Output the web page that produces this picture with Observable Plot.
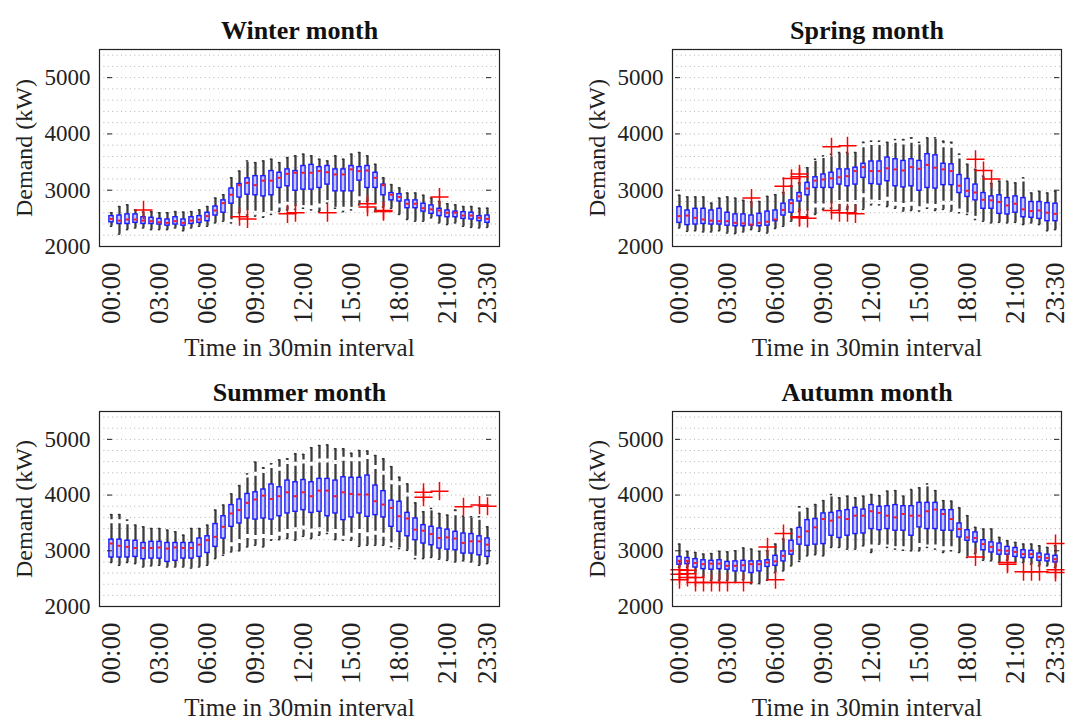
<!DOCTYPE html>
<html><head><meta charset="utf-8">
<script src="https://cdn.jsdelivr.net/npm/d3@7"></script>
<script src="https://cdn.jsdelivr.net/npm/@observablehq/plot@0.6"></script>
<style>
body{margin:0;background:#fff;}
#chart{position:relative;width:1071px;height:720px;overflow:hidden;background:#fff;font-family:"Liberation Serif",serif;}
#chart svg{position:absolute;overflow:visible;}
#chart svg text{font-family:"Liberation Serif",serif;}
</style></head><body><div id="chart"></div>
<script>
const times = ["00:00","00:30","01:00","01:30","02:00","02:30","03:00","03:30","04:00","04:30","05:00","05:30",
"06:00","06:30","07:00","07:30","08:00","08:30","09:00","09:30","10:00","10:30","11:00","11:30",
"12:00","12:30","13:00","13:30","14:00","14:30","15:00","15:30","16:00","16:30","17:00","17:30",
"18:00","18:30","19:00","19:30","20:00","20:30","21:00","21:30","22:00","22:30","23:00","23:30"];
const xTickLabels = ["00:00","03:00","06:00","09:00","12:00","15:00","18:00","21:00","23:30"];
const yTicks = [2000,3000,4000,5000];
const yGrid = [2200,2400,2600,2800,3000,3200,3400,3600,3800,4000,4200,4400,4600,4800,5000,5200,5400];
const titles = ["Winter month","Spring month","Summer month","Autumn month"];
const yLabel = "Demand (kW)";
const xLabel = "Time in 30min interval";

// Winter
const winterQ1 = [2430,2400,2400,2420,2400,2400,2390,2370,2390,2370,2400,2420,2450,2550,2600,2760,2870,2920,2910,2890,2910,3040,3070,2990,3010,3010,3040,3100,2980,2980,2980,3170,3040,3040,2910,2820,2800,2680,2680,2620,2580,2540,2520,2520,2490,2480,2450,2420];
const winterMed = [2490,2460,2480,2480,2460,2450,2430,2420,2450,2420,2460,2480,2540,2640,2770,2920,3090,3130,3090,3170,3170,3220,3290,3310,3310,3310,3340,3320,3280,3280,3370,3340,3350,3220,3090,2920,2880,2760,2760,2680,2660,2640,2600,2600,2550,2550,2510,2490];
const winterQ3 = [2540,2550,2570,2570,2520,2510,2490,2480,2520,2480,2520,2540,2600,2710,2820,3030,3110,3210,3250,3250,3340,3310,3370,3340,3430,3450,3410,3430,3370,3370,3430,3410,3430,3310,3100,2950,2930,2820,2820,2760,2730,2670,2640,2620,2610,2600,2540,2550];
const winterLo = [2360,2220,2300,2330,2330,2300,2300,2300,2330,2280,2330,2360,2360,2420,2450,2420,2600,2560,2540,2520,2570,2620,2650,2660,2680,2650,2620,2770,2680,2620,2650,2740,2800,2620,2700,2680,2570,2480,2450,2450,2510,2420,2390,2420,2360,2340,2330,2340];
const winterHi = [2600,2710,2740,2650,2610,2620,2600,2600,2620,2610,2620,2650,2710,2860,2920,3220,3340,3520,3490,3520,3550,3490,3580,3610,3640,3610,3550,3520,3610,3550,3640,3670,3610,3460,3220,3100,3040,2950,2950,2910,2860,2800,2760,2740,2710,2710,2680,2680];
const winterOutTime = ["02:00","08:00","08:30","11:00","11:30","13:30","16:00","16:00","17:00","17:00","20:30"];
const winterOutValue = [2650,2530,2490,2580,2600,2600,2760,2700,2640,2620,2880];

// Spring
const springQ1 = [2420,2380,2390,2400,2390,2390,2370,2360,2360,2370,2360,2370,2450,2550,2600,2800,2910,3040,3040,3040,3100,3070,3100,3220,3110,3100,3160,3070,3050,3070,2990,3040,3030,3090,3090,2950,2880,2820,2670,2670,2580,2570,2600,2520,2510,2490,2450,2450];
const springMed = [2540,2550,2510,2480,2460,2450,2450,2420,2410,2390,2420,2440,2480,2650,2770,2890,3030,3170,3190,3210,3230,3250,3340,3410,3340,3340,3390,3370,3350,3410,3380,3450,3400,3370,3340,3080,2990,2960,2830,2820,2790,2730,2760,2660,2630,2640,2600,2580];
const springQ3 = [2700,2640,2670,2670,2640,2670,2600,2570,2570,2550,2580,2620,2640,2760,2820,2950,3130,3230,3280,3310,3370,3370,3400,3470,3510,3510,3580,3550,3520,3550,3520,3640,3620,3470,3460,3270,3200,3100,2950,2890,2910,2860,2890,2860,2790,2790,2770,2760];
const springLo = [2330,2270,2280,2260,2260,2280,2240,2230,2260,2300,2270,2240,2320,2360,2450,2620,2560,2570,2660,2680,2650,2660,2620,2660,2740,2740,2710,2680,2630,2640,2630,2680,2640,2660,2630,2600,2570,2480,2450,2420,2430,2420,2430,2390,2420,2390,2280,2300];
const springHi = [2910,2880,2880,2880,2770,2860,2880,2860,2820,2790,2800,2890,2920,2960,3080,3130,3400,3550,3610,3640,3670,3670,3670,3850,3870,3870,3850,3900,3900,3930,3850,3930,3930,3870,3850,3640,3460,3370,3250,3120,3160,3160,3130,3220,2950,2980,2950,2980];
const springOutTime = ["04:30","06:30","07:00","07:30","07:30","07:30","07:30","08:00","09:30","09:30","10:00","10:30","10:30","11:00","18:30","19:00","19:30"];
const springOutValue = [2860,3070,3210,3290,3240,2510,2530,2500,3770,2640,2600,3790,2600,2580,3550,3350,3200];

// Summer
const summerQ1 = [2880,2880,2880,2890,2850,2860,2860,2800,2820,2860,2860,2890,2960,3070,3220,3430,3490,3580,3560,3580,3560,3620,3670,3700,3730,3680,3700,3620,3670,3550,3600,3670,3610,3640,3600,3430,3340,3260,3190,3130,3100,3040,3020,3010,2950,2950,2920,2890];
const summerMed = [3130,3090,3070,3050,3050,3050,3060,3040,3060,3050,3050,3110,3190,3250,3430,3670,3730,3860,3920,3990,3930,3980,4050,3980,4050,3980,4080,4080,3980,4050,4020,4010,4010,3890,3830,3770,3620,3580,3380,3360,3300,3230,3240,3220,3140,3170,3170,3110];
const summerQ3 = [3200,3200,3180,3180,3140,3160,3160,3140,3140,3140,3140,3220,3260,3480,3620,3820,3920,4020,4050,4100,4190,4140,4260,4230,4270,4230,4290,4290,4260,4320,4310,4310,4350,4170,4070,3900,3880,3680,3580,3460,3430,3400,3380,3340,3310,3300,3260,3220];
const summerLo = [2790,2740,2790,2770,2710,2730,2740,2710,2710,2710,2690,2710,2740,2860,2920,2980,3000,3070,3100,3070,3190,3200,3220,3190,3260,3220,3280,3310,3200,3190,3190,3080,3100,3100,3100,3070,3040,3010,2860,2860,2880,2850,2830,2800,2820,2800,2740,2770];
const summerHi = [3650,3650,3550,3460,3430,3400,3400,3370,3340,3280,3400,3400,3460,3730,3820,4020,4170,4380,4590,4490,4560,4630,4650,4740,4730,4850,4890,4900,4830,4830,4750,4800,4790,4710,4650,4510,4320,4200,3860,3700,3760,3670,3640,3730,3620,3610,3610,3430];
const summerOutTime = ["19:30","19:30","20:30","22:00","23:00","23:30"];
const summerOutValue = [4050,3960,4070,3790,3820,3800];

// Autumn
const autumnQ1 = [2750,2760,2700,2670,2660,2670,2660,2630,2630,2600,2630,2710,2730,2810,2930,3110,3090,3110,3120,3270,3230,3270,3300,3310,3390,3370,3390,3360,3360,3270,3420,3390,3390,3360,3360,3240,3180,3150,3010,2970,2930,2930,2890,2870,2870,2820,2810,2790];
const autumnMed = [2820,2820,2780,2760,2770,2770,2730,2730,2740,2760,2760,2790,2810,2910,3000,3250,3350,3420,3570,3540,3600,3570,3630,3630,3710,3680,3630,3600,3660,3630,3630,3710,3740,3660,3570,3390,3240,3230,3120,3070,3010,3000,2980,2940,2940,2890,2870,2850];
const autumnQ3 = [2890,2870,2850,2830,2820,2830,2800,2810,2820,2810,2810,2830,2910,2990,3180,3410,3550,3570,3670,3680,3710,3730,3770,3740,3820,3790,3800,3820,3800,3800,3860,3860,3860,3730,3730,3490,3370,3330,3190,3150,3130,3070,3050,3010,3000,2950,2930,2910];
const autumnLo = [2700,2700,2600,2530,2470,2470,2470,2440,2480,2410,2410,2470,2610,2640,2730,2810,2910,2930,2910,3060,3060,3030,3030,3090,2970,3120,3060,3030,3010,3000,3000,3060,3030,2970,3000,2970,2880,2950,2830,2820,2790,2830,2790,2790,2760,2730,2730,2700];
const autumnHi = [3120,2990,2970,2940,2950,2990,2980,3000,3050,3030,2990,3000,3120,3210,3390,3790,3760,3830,3900,4010,3950,3980,3950,3980,4010,3990,4070,4080,3980,4100,4130,4200,4080,3900,3890,3770,3630,3420,3390,3390,3240,3180,3150,3120,3120,3090,3060,3090];
const autumnOutTime = ["00:00","00:00","00:00","00:30","00:30","00:30","01:00","01:00","01:30","02:00","02:30","03:00","04:00","05:30","06:00","06:30","18:30","20:30","20:30","21:30","22:00","22:30","23:30","23:30","23:30"];
const autumnOutValue = [2660,2580,2480,2650,2590,2520,2520,2430,2430,2430,2430,2430,2430,3070,2480,3310,2890,2790,2760,2625,2625,2625,3130,2660,2610];

const FONT = "Liberation Serif";

function panel(title, q1, med, q3, lo, hi, outT, outV, box) {
  const rows = times.map((t, i) => ({t, q1: q1[i], med: med[i], q3: q3[i], lo: lo[i], hi: hi[i]}));
  const outs = outT.map((t, i) => ({t, v: outV[i]}));
  const svg = Plot.plot({
    width: box.width, height: box.height,
    marginTop: box.mt, marginRight: box.mr, marginBottom: box.mb, marginLeft: box.ml,
    style: {fontFamily: FONT, fontSize: "23px", color: "#222", background: "transparent"},
    x: {type: "band", domain: times, padding: 0},
    y: {domain: [2000, 5500]},
    marks: [
      Plot.ruleY(yGrid, {stroke: "#b0b0b0", strokeWidth: 1, strokeDasharray: "1,3.4"}),
      Plot.ruleX(rows, {x: "t", y1: "q3", y2: "hi", stroke: "#3c3c3c", strokeWidth: 2.3, strokeDasharray: "16,4"}),
      Plot.ruleX(rows, {x: "t", y1: "q1", y2: "lo", stroke: "#3c3c3c", strokeWidth: 2.3, strokeDasharray: "16,4"}),
      Plot.tickY(rows, {x: "t", y: "hi", insetLeft: 2.8, insetRight: 2.8, stroke: "#333", strokeWidth: 1.5}),
      Plot.tickY(rows, {x: "t", y: "lo", insetLeft: 2.8, insetRight: 2.8, stroke: "#333", strokeWidth: 1.5}),
      Plot.barY(rows, {x: "t", y1: "q1", y2: "q3", insetLeft: 1.9, insetRight: 1.9, fill: "#c6c8f5", stroke: "#1a1aff", strokeWidth: 1.4}),
      Plot.tickY(rows, {x: "t", y: "med", insetLeft: 2.3, insetRight: 2.3, stroke: "#ff1a1a", strokeWidth: 2}),
      Plot.dot(outs, {x: "t", y: "v", symbol: "plus", r: 5.9, stroke: "#ff0000", strokeWidth: 1.5}),
      Plot.tickY(yTicks, {x: () => times[0], insetRight: 3, stroke: "#222"}),
      Plot.tickY(yTicks, {x: () => times[times.length - 1], insetLeft: 3, stroke: "#222"}),
      Plot.frame({stroke: "#222", strokeWidth: 1.2}),
      Plot.axisY(yTicks, {tickSize: 0, tickPadding: 9, fontSize: 23, fontFamily: FONT, tickFormat: d => String(d), label: null}),
      Plot.axisX(xTickLabels, {tickSize: 0, tickPadding: 16, tickRotate: -90, fontSize: 27, fontFamily: FONT, label: null}),
      Plot.text([title], {text: d => d, frameAnchor: "top", lineAnchor: "middle", textAnchor: "middle", dy: -19, fontSize: 26, fontWeight: "bold", fontFamily: FONT, fill: "#111"}),
      Plot.text([yLabel], {text: d => d, frameAnchor: "left", lineAnchor: "middle", textAnchor: "middle", dx: -75, rotate: -90, fontSize: 24, fontFamily: FONT, fill: "#222"}),
      Plot.text([xLabel], {text: d => d, frameAnchor: "bottom", lineAnchor: "middle", textAnchor: "middle", dy: 101, fontSize: 25, fontFamily: FONT, fill: "#222"})
    ]
  });
  svg.style.left = box.left + "px";
  svg.style.top = box.top + "px";
  document.getElementById("chart").appendChild(svg);
}

const L = {width: 535, height: 360, mr: 36, ml: 99, mb: 114};
const R = {width: 536, height: 360, mr: 10, ml: 137, mb: 114};
panel(titles[0], winterQ1, winterMed, winterQ3, winterLo, winterHi, winterOutTime, winterOutValue, {...L, left: 0, top: 0, mt: 49});
panel(titles[1], springQ1, springMed, springQ3, springLo, springHi, springOutTime, springOutValue, {...R, left: 535, top: 0, mt: 49});
panel(titles[2], summerQ1, summerMed, summerQ3, summerLo, summerHi, summerOutTime, summerOutValue, {...L, left: 0, top: 360, mt: 51});
panel(titles[3], autumnQ1, autumnMed, autumnQ3, autumnLo, autumnHi, autumnOutTime, autumnOutValue, {...R, left: 535, top: 360, mt: 51});
</script></body></html>
